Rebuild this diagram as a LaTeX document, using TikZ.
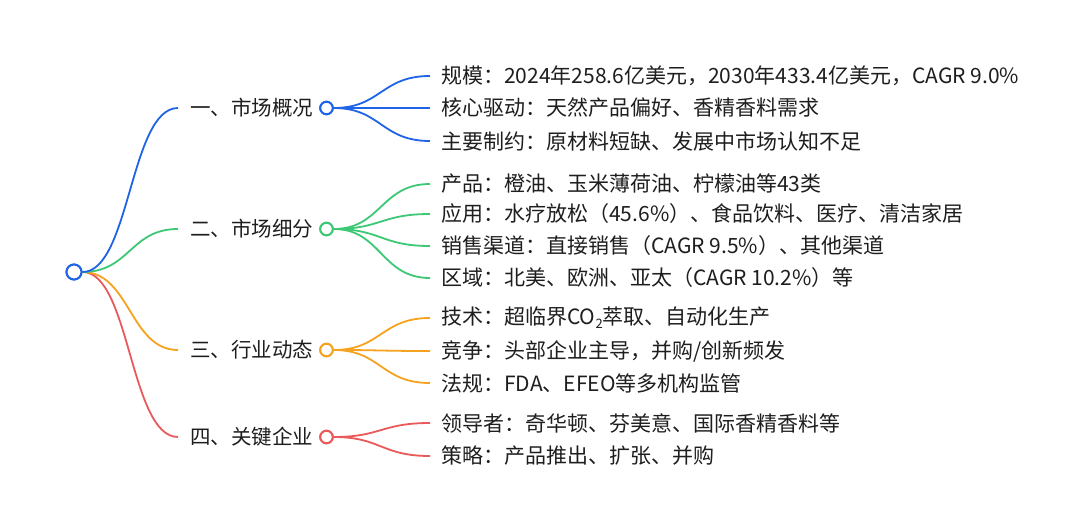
\documentclass[tikz,border=0pt]{standalone}
\usepackage{fontspec}
\setmainfont{Noto Sans CJK SC}
\definecolor{cblue}{HTML}{1F63E6}
\definecolor{cgreen}{HTML}{3DC876}
\definecolor{corange}{HTML}{F5A31E}
\definecolor{cred}{HTML}{EB5A5A}
\definecolor{ctext}{HTML}{1E1E1E}
\newcommand{\subtwo}{\raisebox{-0.18em}{\fontsize{13}{13}\selectfont 2}}
\begin{document}
\begin{tikzpicture}[x=1pt,y=-1pt,
  rootdot/.style={circle,draw=cblue,fill=white,line width=2pt,minimum size=15pt,inner sep=0},
  bdot/.style={circle,draw=#1,fill=white,line width=2pt,minimum size=12.5pt,inner sep=0},
  btext/.style={anchor=west,inner xsep=12pt,inner ysep=0,text=ctext,font=\fontsize{20.5}{24}\selectfont},
  leaf/.style={anchor=west,inner xsep=11pt,inner ysep=0,text=ctext,font=\fontsize{21}{25}\selectfont},
  conn/.style={draw=#1,line width=1.8pt}]
\fill[white] (0,0) rectangle (1080,530);
\useasboundingbox (0,0) rectangle (1080,530);

% root
\node[rootdot] (root) at (74,272) {};

% branches
\node[btext] (b1) at (178,108) {一、市场概况};
\node[btext] (b2) at (178,229) {二、市场细分};
\node[btext] (b3) at (178,350) {三、行业动态};
\node[btext] (b4) at (178,437) {四、关键企业};

\node[bdot=cblue]   (d1) at (326.5,108) {};
\node[bdot=cgreen]  (d2) at (326.5,229) {};
\node[bdot=corange] (d3) at (326.5,350) {};
\node[bdot=cred]    (d4) at (326.5,437) {};

% root connectors
\draw[conn=cred]    (root.east) .. controls (130,272) and (130,437) .. (b4.west);
\draw[conn=corange] (root.east) .. controls (130,272) and (130,350) .. (b3.west);
\draw[conn=cgreen]  (root.east) .. controls (130,272) and (130,229) .. (b2.west);
\draw[conn=cblue]   (root.east) .. controls (130,272) and (130,108) .. (b1.west);
\node[rootdot] at (root) {};

% leaves branch 1
\node[leaf] (l11) at (430,76) {规模：2024年258.6亿美元，2030年433.4亿美元，CAGR 9.0\%};
\node[leaf] (l12) at (430,108) {核心驱动：天然产品偏好、香精香料需求};
\node[leaf] (l13) at (430,141) {主要制约：原材料短缺、发展中市场认知不足};
% leaves branch 2
\node[leaf] (l21) at (430,184) {产品：橙油、玉米薄荷油、柠檬油等43类};
\node[leaf] (l22) at (430,214) {应用：水疗放松（45.6\%）、食品饮料、医疗、清洁家居};
\node[leaf] (l23) at (430,246) {销售渠道：直接销售（CAGR 9.5\%）、其他渠道};
\node[leaf] (l24) at (430,278) {区域：北美、欧洲、亚太（CAGR 10.2\%）等};
% leaves branch 3
\node[leaf] (l31) at (430,318) {技术：超临界CO\subtwo 萃取、自动化生产};
\node[leaf] (l32) at (430,351) {竞争：头部企业主导，并购/创新频发};
\node[leaf] (l33) at (430,383) {法规：FDA、EFEO等多机构监管};
% leaves branch 4
\node[leaf] (l41) at (430,423) {领导者：奇华顿、芬美意、国际香精香料等};
\node[leaf] (l42) at (430,456) {策略：产品推出、扩张、并购};

% child connectors
\foreach \l in {l11,l12,l13}
  \draw[conn=cblue] (d1.east) .. controls (381,108) and (381,0|-\l.west) .. (\l.west);
\foreach \l in {l21,l22,l23,l24}
  \draw[conn=cgreen] (d2.east) .. controls (381,229) and (381,0|-\l.west) .. (\l.west);
\foreach \l in {l31,l32,l33}
  \draw[conn=corange] (d3.east) .. controls (381,350) and (381,0|-\l.west) .. (\l.west);
\foreach \l in {l41,l42}
  \draw[conn=cred] (d4.east) .. controls (381,437) and (381,0|-\l.west) .. (\l.west);

\node[bdot=cblue]   at (d1) {};
\node[bdot=cgreen]  at (d2) {};
\node[bdot=corange] at (d3) {};
\node[bdot=cred]    at (d4) {};
\end{tikzpicture}
\end{document}
